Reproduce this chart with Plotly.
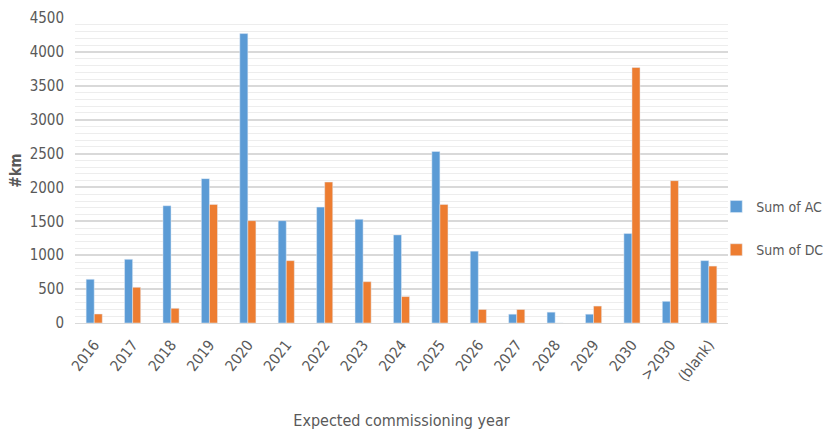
import plotly.graph_objects as go

categories = ["2016", "2017", "2018", "2019", "2020", "2021", "2022", "2023", "2024",
              "2025", "2026", "2027", "2028", "2029", "2030", ">2030", "(blank)"]
ac_values = [645, 940, 1730, 2130, 4270, 1510, 1710, 1530, 1300,
             2530, 1060, 130, 160, 130, 1320, 320, 920]
dc_values = [133, 527, 217, 1750, 1510, 920, 2080, 610, 390,
             1750, 200, 200, 0, 250, 3770, 2100, 840]
y_ticks = [0, 500, 1000, 1500, 2000, 2500, 3000, 3500, 4000, 4500]

FONT = "DejaVu Sans Condensed, Liberation Sans Narrow, sans-serif"
GRAY = "#595959"

fig = go.Figure()
fig.add_trace(go.Bar(x=categories, y=ac_values, name="Sum of AC",
                     marker=dict(color="#5B9BD5"), legendgroup="ac"))
fig.add_trace(go.Bar(x=categories, y=dc_values, name="Sum of DC",
                     marker=dict(color="#ED7D31"), legendgroup="dc"))

fig.update_layout(
    width=832, height=434,
    margin=dict(l=75, r=104, t=18, b=111, autoexpand=False),
    paper_bgcolor="white", plot_bgcolor="white",
    barmode="group", bargap=0.58, bargroupgap=0,
    font=dict(family=FONT, color=GRAY, size=14),
    legend=dict(x=0.982, xanchor="left", y=0.31, yanchor="middle",
                font=dict(size=14, color=GRAY), tracegroupgap=22,
                traceorder="grouped", itemwidth=30, bgcolor="rgba(0,0,0,0)"),
    xaxis=dict(
        tickangle=-52, tickfont=dict(size=15, color=GRAY),
        showline=True, linecolor="#d9d9d9", linewidth=1,
        ticklabelstandoff=6,
        title=dict(text="Expected commissioning year", font=dict(size=16, color=GRAY), standoff=30),
        ticks="",
    ),
    yaxis=dict(
        range=[0, 4500], tickvals=y_ticks, ticktext=[str(v) for v in y_ticks],
        showgrid=True, gridcolor="#d9d9d9", gridwidth=1.5,
        minor=dict(dtick=100, showgrid=True, gridcolor="#ededed", gridwidth=1),
        zeroline=False, ticks="", ticklabelstandoff=10,
        tickfont=dict(size=15, color=GRAY),
        title=dict(text="<b>#km</b>", font=dict(size=15, color=GRAY), standoff=4),
    ),
)

fig.write_html("out.html")
